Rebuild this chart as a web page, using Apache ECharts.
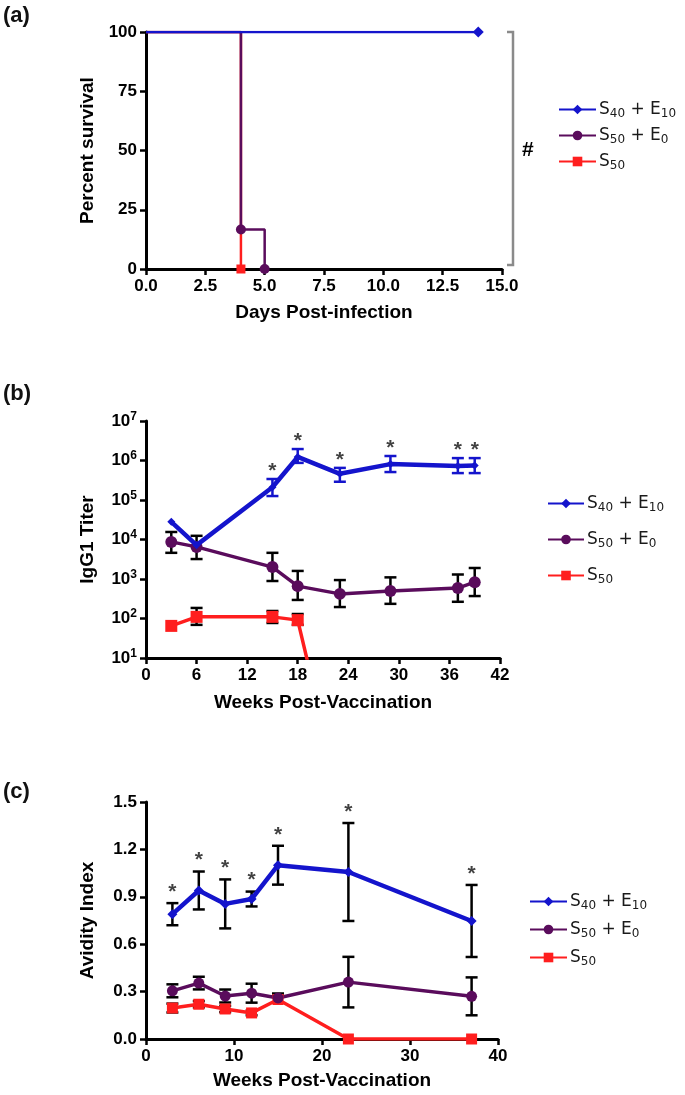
<!DOCTYPE html>
<html>
<head>
<meta charset="utf-8">
<script src="https://cdn.jsdelivr.net/npm/echarts@6/dist/echarts.min.js"></script>
<style>html,body{margin:0;padding:0;background:#fff}#chart{width:685px;height:1095px}</style>
</head>
<body>
<div id="chart"></div>
<script>
// ---------- Panel (a): survival ----------
const aBlueX = [0, 14];
const aBlueY = [100, 100];
const aPurpleX = [0, 4, 5];
const aPurpleY = [100, 16.7, 0];
const aRedX = [0, 4];
const aRedY = [100, 0];
const aXTicks = [0, 2.5, 5, 7.5, 10, 12.5, 15];
const aYTicks = [0, 25, 50, 75, 100];

// ---------- Panel (b): IgG1 titer ----------
const bBlueWeeks = [3, 6, 15, 18, 23, 29, 37, 39];
const bBlue = [28000, 7200, 210000, 1230000, 460000, 810000, 730000, 750000];
const bBlueLo = [null, null, 126000, 870000, 290000, 510000, 480000, 480000];
const bBlueHi = [null, null, 340000, 1950000, 650000, 1300000, 1150000, 1150000];
const bBlueStar = [0, 0, 1, 1, 1, 1, 1, 1];
const bPurpleWeeks = [3, 6, 15, 18, 23, 29, 37, 39];
const bPurple = [8700, 6500, 2000, 660, 420, 500, 590, 830];
const bPurpleLo = [4600, 3200, 890, 295, 195, 235, 265, 370];
const bPurpleHi = [15500, 12400, 4600, 1600, 940, 1100, 1300, 1900];
const bRedWeeks = [3, 6, 15, 18, 23];
const bRed = [65, 110, 110, 91, 0.003];
const bRedLo = [null, 69, 77, 69, null];
const bRedHi = [null, 185, 155, 130, null];

// ---------- Panel (c): avidity ----------
const cWeeks = [3, 6, 9, 12, 15, 23, 37];
const cBlue = [0.79, 0.94, 0.855, 0.886, 1.10, 1.057, 0.747];
const cBlueErr = [0.07, 0.12, 0.155, 0.047, 0.123, 0.31, 0.228];
const cBlueStar = [1, 1, 1, 1, 1, 1, 1];
const cPurple = [0.305, 0.354, 0.272, 0.29, 0.26, 0.36, 0.27];
const cPurpleErr = [0.041, 0.04, 0.041, 0.06, 0.028, 0.16, 0.12];
const cRed = [0.196, 0.22, 0.19, 0.165, 0.25, 0, 0];
const cRedErr = [0.028, 0.02, 0.02, 0.015, 0.02, 0, 0];

const groupLabels = ['S40 + E10', 'S50 + E0', 'S50'];
const groupRich = ['{n|S}{s|40}{n| + E}{s|10}', '{n|S}{s|50}{n| + E}{s|0}', '{n|S}{s|50}'];

// ---------- styling ----------
const BLUE = '#1414cc', PURPLE = '#5a0c5c', RED = '#ff1e1e', BLACK = '#000';
const AXF = "'Liberation Sans', Arial, sans-serif";
const LGF = "'DejaVu Sans', sans-serif";

function nm(panel, i) { return panel + ' ' + groupLabels[i]; }

function errRender(capHalf, color, width) {
  return function (params, api) {
    const x = api.value(0), lo = api.value(1), hi = api.value(2);
    const a = api.coord([x, lo]), b = api.coord([x, hi]);
    const st = { stroke: color, lineWidth: width };
    return { type: 'group', children: [
      { type: 'line', shape: { x1: a[0], y1: a[1], x2: b[0], y2: b[1] }, style: st },
      { type: 'line', shape: { x1: a[0] - capHalf, y1: a[1], x2: a[0] + capHalf, y2: a[1] }, style: st },
      { type: 'line', shape: { x1: b[0] - capHalf, y1: b[1], x2: b[0] + capHalf, y2: b[1] }, style: st }
    ] };
  };
}
function errData(xs, lo, hi) {
  const out = [];
  xs.forEach((x, i) => { if (lo[i] != null && hi[i] != null && hi[i] > lo[i]) out.push([x, lo[i], hi[i]]); });
  return out;
}
function errSeries(idx, data, color, capHalf) {
  return { type: 'custom', xAxisIndex: idx, yAxisIndex: idx, z: 1, silent: true,
    renderItem: errRender(capHalf, color, 2.5), data: data, encode: { x: 0, y: [1, 2] } };
}
function starSeries(idx, xs, tops, flags, dy) {
  const d = [];
  xs.forEach((x, i) => { if (flags[i]) d.push([x, tops[i]]); });
  return { type: 'scatter', xAxisIndex: idx, yAxisIndex: idx, symbolSize: 0, silent: true, z: 5,
    itemStyle: { color: 'rgba(0,0,0,0)' },
    data: d, label: { show: true, position: 'inside', offset: [0, dy], formatter: '*',
      fontFamily: AXF, fontWeight: 'bold', fontSize: 21, color: '#111' } };
}
function lineSeries(idx, name, xs, ys, color, width, symbol, size, z, extra) {
  return Object.assign({ type: 'line', name: name, xAxisIndex: idx, yAxisIndex: idx, z: z,
    data: xs.map((x, i) => [x, ys[i]]), symbol: symbol, symbolSize: size, showSymbol: true,
    lineStyle: { color: color, width: width }, itemStyle: { color: color }, clip: true }, extra || {});
}
const tickLabel = { fontFamily: AXF, fontWeight: 'bold', fontSize: 17, color: BLACK };
const axisCommon = {
  axisLine: { onZero: false, lineStyle: { color: BLACK, width: 3 } },
  axisTick: { show: true, length: 6, lineStyle: { color: BLACK, width: 2.5 } },
  splitLine: { show: false },
  nameTextStyle: { fontFamily: AXF, fontWeight: 'bold', fontSize: 19, color: BLACK }
};
function xAx(idx, min, max, interval, name, gap, fmt) {
  return Object.assign({}, axisCommon, { type: 'value', gridIndex: idx, min: min, max: max, interval: interval,
    name: name, nameLocation: 'middle', nameGap: gap,
    axisLabel: Object.assign({ margin: 9, formatter: fmt }, tickLabel) });
}
function legendFor(top, left, panel, itemGap, iw) {
  return { top: top, left: left, padding: 0, orient: 'vertical', itemWidth: iw, itemHeight: 12, itemGap: itemGap,
    data: [0, 1, 2].map(i => nm(panel, i)), selectedMode: false,
    formatter: function (name) { return groupRich[groupLabels.indexOf(name.slice(4))]; },
    textStyle: { padding: [0, 0, 0, -2], rich: {
      n: { fontFamily: LGF, fontSize: 17, color: '#1a1a1a', lineHeight: 20 },
      s: { fontFamily: LGF, fontSize: 12, color: '#1a1a1a', padding: [9, 0, 0, 0], lineHeight: 20 } } } };
}

const option = {
  animation: false,
  backgroundColor: '#fff',
  grid: [
    { left: 146, top: 32, width: 356, height: 237 },
    { left: 146, top: 421, width: 354, height: 237 },
    { left: 146, top: 802, width: 352, height: 237 }
  ],
  xAxis: [
    xAx(0, 0, 15, 2.5, 'Days Post-infection', 34, v => v.toFixed(1)),
    xAx(1, 0, 42, 6, 'Weeks Post-Vaccination', 35, v => String(v)),
    xAx(2, 0, 40, 10, 'Weeks Post-Vaccination', 32, v => String(v))
  ],
  yAxis: [
    Object.assign({}, axisCommon, { type: 'value', gridIndex: 0, min: 0, max: 100, interval: 25,
      name: 'Percent survival', nameLocation: 'middle', nameGap: 49,
      axisLabel: Object.assign({ margin: 9 }, tickLabel) }),
    Object.assign({}, axisCommon, { type: 'log', logBase: 10, gridIndex: 1, min: 10, max: 10000000, interval: 1,
      name: 'IgG1 Titer', nameLocation: 'middle', nameGap: 49,
      axisLabel: Object.assign({ margin: 9,
        formatter: v => '{b|10}{p|' + Math.round(Math.log10(v)) + '}',
        rich: { b: { fontFamily: AXF, fontWeight: 'bold', fontSize: 17, color: BLACK },
                p: { fontFamily: AXF, fontWeight: 'bold', fontSize: 12, color: BLACK, padding: [0, 0, 9, 0] } } }, tickLabel) }),
    Object.assign({}, axisCommon, { type: 'value', gridIndex: 2, min: 0, max: 1.5, interval: 0.3,
      name: 'Avidity Index', nameLocation: 'middle', nameGap: 49,
      axisLabel: Object.assign({ margin: 9, formatter: v => v.toFixed(1) }, tickLabel) })
  ],
  legend: [
    legendFor(99, 558, '(a)', 5, 37),
    legendFor(493, 547, '(b)', 15, 36),
    legendFor(891, 529, '(c)', 7, 37)
  ],
  graphic: [
    { type: 'text', left: 3, top: 5, style: { text: '(a)', font: "bold 22px 'Liberation Sans', Arial, sans-serif", fill: '#111' } },
    { type: 'text', left: 3, top: 383, style: { text: '(b)', font: "bold 22px 'Liberation Sans', Arial, sans-serif", fill: '#111' } },
    { type: 'text', left: 3, top: 781, style: { text: '(c)', font: "bold 22px 'Liberation Sans', Arial, sans-serif", fill: '#111' } },
    { type: 'polyline', shape: { points: [[507, 32], [513, 32], [513, 265], [507, 265]] },
      style: { stroke: '#8a8a8a', lineWidth: 2.5, fill: null } },
    { type: 'text', left: 522, top: 140, style: { text: '#', font: "bold 21px 'Liberation Sans', Arial, sans-serif", fill: '#000' } }
  ],
  series: [
    // ----- (a) -----
    lineSeries(0, nm('(a)', 2), aRedX, aRedY, RED, 2.5, 'rect', 9, 3, { step: 'end',
      data: aRedX.map((x, i) => ({ value: [x, aRedY[i]], symbol: i === 0 ? 'none' : 'rect' })) }),
    lineSeries(0, nm('(a)', 1), aPurpleX, aPurpleY, PURPLE, 2.5, 'circle', 10, 4, { step: 'end',
      data: aPurpleX.map((x, i) => ({ value: [x, aPurpleY[i]], symbol: i === 0 ? 'none' : 'circle' })) }),
    lineSeries(0, nm('(a)', 0), aBlueX, aBlueY, BLUE, 2.5, 'diamond', 11, 5, { step: 'end',
      data: aBlueX.map((x, i) => ({ value: [x, aBlueY[i]], symbol: i === 0 ? 'none' : 'diamond' })) }),
    // ----- (b) -----
    errSeries(1, errData(bRedWeeks, bRedLo, bRedHi), BLACK, 6),
    errSeries(1, errData(bPurpleWeeks, bPurpleLo, bPurpleHi), BLACK, 6),
    errSeries(1, errData(bBlueWeeks, bBlueLo, bBlueHi), BLUE, 6),
    lineSeries(1, nm('(b)', 2), bRedWeeks, bRed, RED, 3.5, 'rect', 12, 3),
    lineSeries(1, nm('(b)', 1), bPurpleWeeks, bPurple, PURPLE, 3.5, 'circle', 12, 3),
    lineSeries(1, nm('(b)', 0), bBlueWeeks, bBlue, BLUE, 4.5, 'diamond', 8, 4),
    starSeries(1, bBlueWeeks, bBlueHi, bBlueStar, -8),
    // ----- (c) -----
    errSeries(2, errData(cWeeks, cRed.map((v, i) => v - cRedErr[i]), cRed.map((v, i) => v + cRedErr[i])), BLACK, 6),
    errSeries(2, errData(cWeeks, cPurple.map((v, i) => v - cPurpleErr[i]), cPurple.map((v, i) => v + cPurpleErr[i])), BLACK, 6),
    errSeries(2, errData(cWeeks, cBlue.map((v, i) => v - cBlueErr[i]), cBlue.map((v, i) => v + cBlueErr[i])), BLACK, 6),
    lineSeries(2, nm('(c)', 2), cWeeks, cRed, RED, 3.5, 'rect', 11, 3),
    lineSeries(2, nm('(c)', 1), cWeeks, cPurple, PURPLE, 3.5, 'circle', 11, 3),
    lineSeries(2, nm('(c)', 0), cWeeks, cBlue, BLUE, 4.5, 'diamond', 10, 4),
    starSeries(2, cWeeks, cBlue.map((v, i) => v + cBlueErr[i]), cBlueStar, -11)
  ]
};

const chart = echarts.init(document.getElementById('chart'), null, { renderer: 'canvas' });
chart.setOption(option);
</script>
</body>
</html>
